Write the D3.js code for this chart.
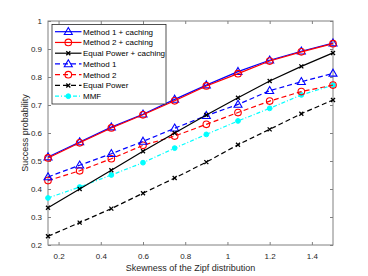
<!DOCTYPE html>
<html><head><meta charset="utf-8">
<script src="https://cdn.jsdelivr.net/npm/d3@7"></script>
<style>body{margin:0;background:#fff;}svg{display:block;font-family:"Liberation Sans",Arial,sans-serif;}</style>
</head><body><svg id="c" width="368" height="276"></svg>
<script>
const xs = [0.15,0.3,0.45,0.6,0.75,0.9,1.05,1.2,1.35,1.5];
const m1c = [0.514,0.568,0.621,0.667,0.72,0.771,0.819,0.86,0.892,0.921];
const m2c = [0.511,0.565,0.618,0.665,0.715,0.768,0.812,0.857,0.89,0.919];
const epc = [0.333,0.40,0.467,0.535,0.60,0.664,0.726,0.786,0.838,0.886];
const m1 = [0.443,0.485,0.526,0.57,0.617,0.662,0.702,0.751,0.783,0.813];
const m2 = [0.43,0.465,0.508,0.556,0.589,0.631,0.673,0.714,0.748,0.771];
const ep = [0.231,0.28,0.33,0.385,0.439,0.496,0.558,0.613,0.669,0.718];
const mmf = [0.368,0.407,0.45,0.494,0.546,0.595,0.643,0.688,0.736,0.771];
const xTicks = [0.2,0.4,0.6,0.8,1,1.2,1.4];
const yTicks = [0.2,0.3,0.4,0.5,0.6,0.7,0.8,0.9,1];
const seriesNames = ["Method 1 + caching","Method 2 + caching","Equal Power + caching","Method 1","Method 2","Equal Power","MMF"];

const series = [
 {name:seriesNames[0], v:m1c, color:"#0000ff", dash:null, marker:"tri"},
 {name:seriesNames[1], v:m2c, color:"#ff0000", dash:null, marker:"circ"},
 {name:seriesNames[2], v:epc, color:"#000000", dash:null, marker:"x"},
 {name:seriesNames[3], v:m1, color:"#0000ff", dash:"5,3", marker:"tri"},
 {name:seriesNames[4], v:m2, color:"#ff0000", dash:"5,3", marker:"circ"},
 {name:seriesNames[5], v:ep, color:"#000000", dash:"5,3", marker:"x"},
 {name:seriesNames[6], v:mmf, color:"#00ffff", dash:"4,2,1,2", marker:"dot"}
];

const svg = d3.select("#c");
const L=48, R=333, T=21, B=245;
const x = d3.scaleLinear().domain([0.15,1.5]).range([L,R]);
const y = d3.scaleLinear().domain([0.2,1]).range([B,T]);
const axisCol = "#808080", txtCol="#262626";

svg.append("rect").attr("x",L).attr("y",T).attr("width",R-L).attr("height",B-T)
  .attr("fill","#fff").attr("stroke",axisCol).attr("stroke-width",1);

const gx = svg.append("g").attr("transform",`translate(0,${B})`)
  .call(d3.axisBottom(x).tickValues(xTicks).tickSize(-3).tickPadding(8).tickFormat(d3.format("")));
const gxt = svg.append("g").attr("transform",`translate(0,${T})`)
  .call(d3.axisTop(x).tickValues(xTicks).tickSize(-3).tickFormat(""));
const gy = svg.append("g").attr("transform",`translate(${L},0)`)
  .call(d3.axisLeft(y).tickValues(yTicks).tickSize(-3).tickPadding(6).tickFormat(d3.format("")));
const gyr = svg.append("g").attr("transform",`translate(${R},0)`)
  .call(d3.axisRight(y).tickValues(yTicks).tickSize(-3).tickFormat(""));
[gx,gxt,gy,gyr].forEach(g=>{
  g.select(".domain").remove();
  g.selectAll(".tick line").attr("stroke",axisCol);
  g.selectAll("text").attr("fill",txtCol).style("font-size","8px").style("font-family","Liberation Sans, Arial, sans-serif");
});

svg.append("text").attr("x",(L+R)/2).attr("y",271).attr("text-anchor","middle")
  .attr("fill",txtCol).style("font-size","9px").text("Skewness of the Zipf distribution");
svg.append("text").attr("transform",`translate(28,${(T+B)/2}) rotate(-90)`).attr("text-anchor","middle")
  .attr("fill",txtCol).style("font-size","9px").text("Success probability");

function drawMarker(g, type, cx, cy, color){
  if(type==="tri"){
    g.append("path").attr("d",`M${cx},${cy-4.2}L${cx+4},${cy+2.8}L${cx-4},${cy+2.8}Z`)
      .attr("fill","none").attr("stroke",color).attr("stroke-width",1.1);
  } else if(type==="circ"){
    g.append("circle").attr("cx",cx).attr("cy",cy).attr("r",3.3).attr("fill","none").attr("stroke",color).attr("stroke-width",1.1);
  } else if(type==="x"){
    g.append("path").attr("d",`M${cx-2},${cy-2}L${cx+2},${cy+2}M${cx-2},${cy+2}L${cx+2},${cy-2}`)
      .attr("stroke",color).attr("stroke-width",1.3);
  } else {
    g.append("circle").attr("cx",cx).attr("cy",cy).attr("r",2.4).attr("fill",color).attr("stroke",color);
  }
}

const line = d3.line().x(d=>x(d[0])).y(d=>y(d[1]));
const order = [6,5,4,3,2,0,1];
order.forEach(i=>{
  const s = series[i];
  const g = svg.append("g");
  const pts = xs.map((xv,j)=>[xv,s.v[j]]);
  g.append("path").datum(pts).attr("d",line).attr("fill","none").attr("stroke",s.color)
    .attr("stroke-width",1.2).attr("stroke-dasharray",s.dash);
  pts.forEach(p=>drawMarker(g,s.marker,x(p[0]),y(p[1]),s.color));
});

const lg = svg.append("g");
lg.append("rect").attr("x",52).attr("y",24.5).attr("width",114).attr("height",79.5)
  .attr("fill","#fff").attr("stroke","#262626").attr("stroke-width",0.8);
series.forEach((s,i)=>{
  const yy = 31.7 + i*10.75;
  lg.append("line").attr("x1",55).attr("x2",81.5).attr("y1",yy).attr("y2",yy)
    .attr("stroke",s.color).attr("stroke-width",1.2).attr("stroke-dasharray",s.dash);
  drawMarker(lg,s.marker,68.3,yy,s.color);
  lg.append("text").attr("x",83).attr("y",yy+3).attr("fill","#000").style("font-size","8px").text(s.name);
});
</script></body></html>
